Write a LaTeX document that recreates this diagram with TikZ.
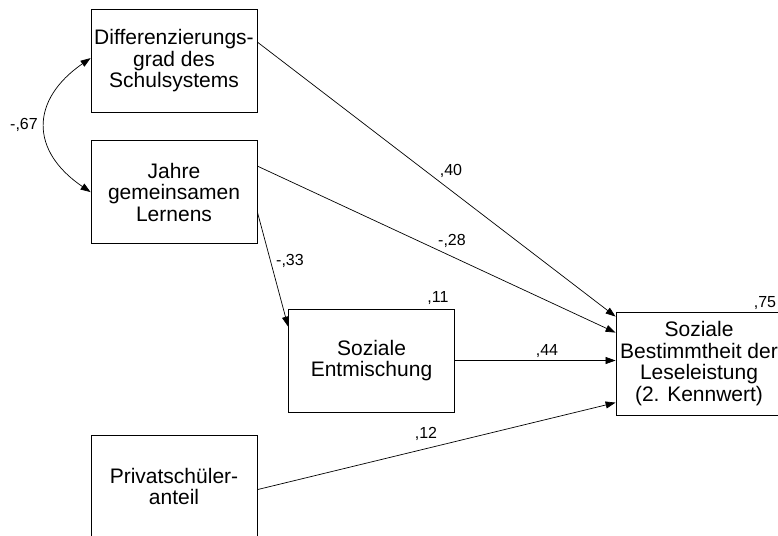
\documentclass[tikz,border=0pt]{standalone}
\usepackage{fontspec}
\setmainfont{Liberation Sans}
\usetikzlibrary{arrows.meta}
\tikzset{
  box/.style={draw, line width=0.8pt, minimum width=166pt, minimum height=103pt, inner sep=0pt, align=center, font=\fontsize{21}{21.5}\selectfont},
  conn/.style={line width=0.7pt, -{Triangle[length=10pt,width=7pt]}},
  lab/.style={font=\fontsize{16}{18}\selectfont, inner sep=0pt}
}
\begin{document}
\begin{tikzpicture}[x=1pt,y=-1pt]
\clip (0,0) rectangle (778,535);
\fill[white] (0,0) rectangle (778,535);
\node[box] (A) at (174,61) {Differenzierungs-\\grad des\\Schulsystems};
\node[box] (B) at (174,192) {Jahre\\gemeinsamen\\Lernens};
\node[box] (C) at (371.5,360.5) {Soziale\\Entmischung};
\node[box] (D) at (699,363.5) {Soziale\\Bestimmtheit der\\Leseleistung\\(2. Kennwert)};
\node[box] (E) at (174,486.5) {Privatschüler-\\anteil};

\draw[conn] ([yshift=-33pt]A.north east) -- ([yshift=-5pt]D.north west);
\draw[conn] ([yshift=-26pt]B.north east) -- ([yshift=-21pt]D.north west);
\draw[conn] ([yshift=-72pt]B.north east) -- ([yshift=-18pt]C.north west);
\draw[conn] (C.east) -- (C.east -| D.west);
\draw[conn] ([yshift=-55pt]E.north east) -- ([yshift=-91pt]D.north west);
\draw[line width=0.7pt, {Triangle[length=10pt,width=7pt]}-{Triangle[length=10pt,width=7pt]}]
  ([yshift=-49pt]A.north west) .. controls (30,100) and (30,151) .. ([yshift=-52pt]B.north west);

\node[lab] (l67) at (24,125) {-,67};
\node[lab] (l40) at (451,171) {,40};
\node[lab] (l28) at (452,241) {-,28};
\node[lab] (l33) at (290,261) {-,33};
\node[lab] (l11) at (438,298) {,11};
\node[lab] (l44) at (547,351) {,44};
\node[lab] (l12) at (426,434) {,12};
\node[lab] (l75) at (765,303) {,75};
\end{tikzpicture}
\end{document}
